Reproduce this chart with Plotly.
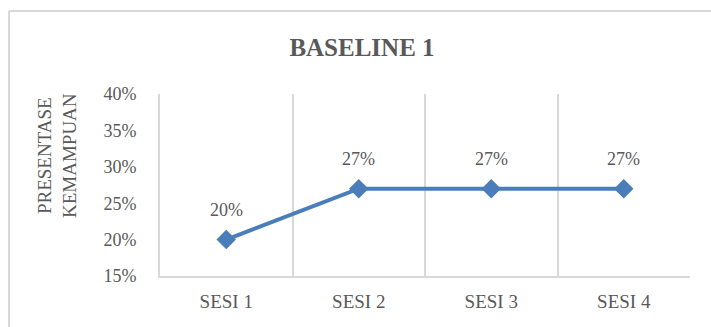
import plotly.graph_objects as go

categories = ["SESI 1", "SESI 2", "SESI 3", "SESI 4"]
values = [0.20, 0.27, 0.27, 0.27]
title_text = "BASELINE 1"
y_title = "PRESENTASE<br>KEMAMPUAN"

L, R, T, B = 160, 21, 94, 51
W, H = 711, 327
pw, ph = W - L - R, H - T - B

def px_x(px):
    return (px - L) / pw

def px_y(py):
    return (H - B - py) / ph

grey = "#595959"
line_col = "#d9d9d9"
serif = "Liberation Serif, Times New Roman, serif"

fig = go.Figure()
fig.add_trace(go.Scatter(
    x=categories, y=values, mode="lines+markers",
    line=dict(color="#4a7ebb", width=4),
    marker=dict(symbol="diamond", size=15, color="#4a7ebb"),
    hoverinfo="skip", showlegend=False,
))

for c, v in zip(categories, values):
    fig.add_annotation(x=c, y=v, text=f"{v*100:.0f}%", showarrow=False,
                       yshift=30, font=dict(family=serif, size=18, color=grey))

fig.add_annotation(xref="paper", yref="paper", x=px_x(57), y=px_y(156),
                   xanchor="center", yanchor="middle",
                   text=y_title, textangle=-90, showarrow=False,
                   font=dict(family=serif, size=19, color=grey))

# outer border (top and left visible)
fig.add_shape(type="line", xref="paper", yref="paper",
              x0=px_x(9), y0=px_y(11), x1=px_x(720), y1=px_y(11),
              line=dict(color=line_col, width=2))
fig.add_shape(type="line", xref="paper", yref="paper",
              x0=px_x(9), y0=px_y(11), x1=px_x(9), y1=px_y(335),
              line=dict(color=line_col, width=2))

fig.update_layout(
    width=W, height=H,
    margin=dict(l=L, r=R, t=T, b=B),
    paper_bgcolor="white", plot_bgcolor="white",
    title=dict(text=f"<b>{title_text}</b>", x=(362) / W, xanchor="center",
               y=1 - 47 / H, yanchor="middle",
               font=dict(family=serif, size=25, color=grey)),
    xaxis=dict(type="category", range=[-0.5, 3.5], tickson="boundaries",
               showgrid=True, gridcolor=line_col, gridwidth=2,
               showline=True, linecolor=line_col, linewidth=2,
               ticks="", tickfont=dict(family=serif, size=19, color=grey),
               ticklabelstandoff=7),
    yaxis=dict(range=[0.15, 0.40], dtick=0.05, tickformat=".0%",
               showgrid=False, zeroline=False, showline=True,
               linecolor=line_col, linewidth=2, ticks="",
               tickfont=dict(family=serif, size=18, color=grey),
               ticklabelstandoff=18),
)

fig.write_html("out.html")
